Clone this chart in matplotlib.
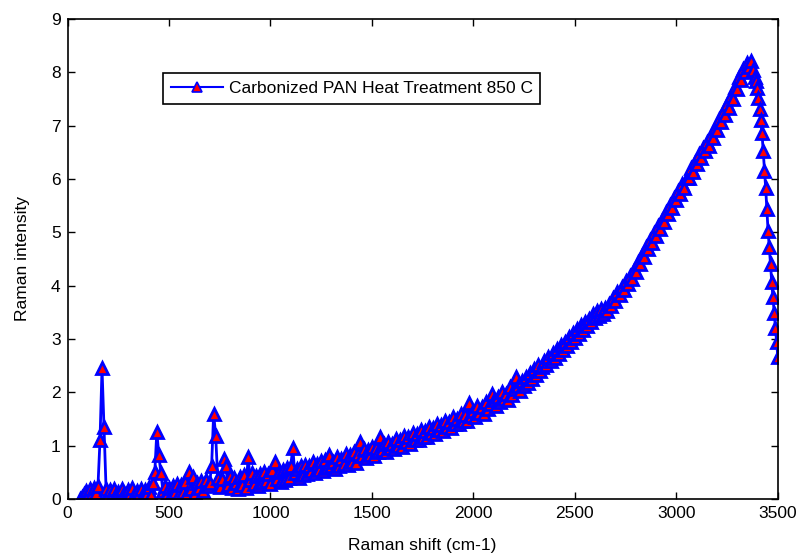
import numpy as np
import matplotlib
matplotlib.use("Agg")
import matplotlib.pyplot as plt

plt.rcParams['font.family'] = ['Liberation Sans', 'DejaVu Sans']

# Raman shift grid: 10 cm-1 steps up to the peak, finer steps on the falling edge
shift_main = np.arange(60, 3371, 10)
shift_tail = np.arange(3380, 3501, 6)

# intensity, one row per 100 cm-1 (60..3370)
intensity_main = [
    0.00, 0.04, 0.09, 0.15, 0.07, 0.18, 0.10, 0.21, 0.12, 0.24,
    1.10, 2.45, 1.35, 0.19, 0.08, 0.16, 0.05, 0.19, 0.10, 0.14,
    0.06, 0.18, 0.11, 0.04, 0.17, 0.09, 0.20, 0.07, 0.15, 0.10,
    0.19, 0.06, 0.16, 0.12, 0.22, 0.08, 0.30, 0.50, 1.26, 0.82,
    0.48, 0.15, 0.24, 0.10, 0.21, 0.07, 0.25, 0.13, 0.28, 0.09,
    0.26, 0.14, 0.31, 0.11, 0.50, 0.18, 0.42, 0.12, 0.30, 0.20,
    0.33, 0.15, 0.36, 0.24, 0.30, 0.62, 1.60, 1.19, 0.40, 0.22,
    0.38, 0.75, 0.61, 0.27, 0.44, 0.21, 0.40, 0.30, 0.18, 0.42,
    0.26, 0.45, 0.20, 0.79, 0.36, 0.48, 0.28, 0.43, 0.25, 0.46,
    0.30, 0.50, 0.33, 0.47, 0.29, 0.55, 0.70, 0.38, 0.50, 0.31,
    0.54, 0.36, 0.58, 0.40, 0.62, 0.96, 0.48, 0.57, 0.39, 0.61,
    0.45, 0.64, 0.47, 0.62, 0.52, 0.70, 0.48, 0.66, 0.55, 0.72,
    0.53, 0.74, 0.58, 0.83, 0.62, 0.70, 0.57, 0.79, 0.62, 0.75,
    0.66, 0.84, 0.64, 0.82, 0.70, 0.89, 0.68, 0.84, 1.07, 0.80,
    0.93, 0.76, 0.92, 0.82, 0.98, 0.80, 0.96, 0.88, 1.16, 0.92,
    1.03, 0.88, 1.07, 0.95, 1.04, 0.94, 1.13, 1.00, 1.10, 0.98,
    1.18, 1.06, 1.16, 1.04, 1.24, 1.11, 1.21, 1.10, 1.29, 1.17,
    1.27, 1.16, 1.35, 1.23, 1.33, 1.21, 1.41, 1.29, 1.38, 1.27,
    1.46, 1.35, 1.44, 1.33, 1.54, 1.41, 1.50, 1.40, 1.60, 1.47,
    1.57, 1.46, 1.80, 1.55, 1.65, 1.53, 1.74, 1.62, 1.72, 1.60,
    1.82, 1.68, 1.79, 1.96, 1.86, 1.74, 1.92, 1.81, 2.00, 1.88,
    1.97, 1.86, 2.10, 1.95, 2.06, 2.28, 2.12, 2.02, 2.22, 2.11,
    2.28, 2.17, 2.36, 2.25, 2.44, 2.32, 2.52, 2.40, 2.48, 2.58,
    2.51, 2.66, 2.58, 2.74, 2.64, 2.82, 2.72, 2.88, 2.80, 2.95,
    2.86, 3.03, 2.94, 3.12, 3.02, 3.18, 3.09, 3.26, 3.16, 3.32,
    3.24, 3.38, 3.31, 3.46, 3.40, 3.52, 3.44, 3.56, 3.47, 3.58,
    3.52, 3.66, 3.61, 3.76, 3.72, 3.88, 3.82, 3.98, 3.92, 4.08,
    4.03, 4.18, 4.12, 4.30, 4.26, 4.44, 4.40, 4.58, 4.54, 4.72,
    4.68, 4.85, 4.80, 4.98, 4.94, 5.12, 5.06, 5.24, 5.20, 5.38,
    5.34, 5.52, 5.46, 5.64, 5.60, 5.78, 5.72, 5.90, 5.84, 6.02,
    6.02, 6.20, 6.14, 6.32, 6.28, 6.46, 6.40, 6.58, 6.52, 6.70,
    6.62, 6.82, 6.76, 6.96, 6.92, 7.12, 7.06, 7.26, 7.20, 7.40,
    7.34, 7.56, 7.50, 7.72, 7.68, 7.92, 7.86, 8.06, 8.00, 8.18,
    8.10, 8.22,
]

# falling edge after the peak (3380..3500)
intensity_tail = [
    8.05, 7.92, 7.84, 7.70, 7.52, 7.32, 7.10, 6.86, 6.52, 6.15,
    5.84, 5.44, 5.02, 4.72, 4.40, 4.06, 3.78, 3.48, 3.20, 2.94,
    2.66,
]

shift = np.concatenate([shift_main, shift_tail])
intensity = np.array(intensity_main + intensity_tail)

fig = plt.figure(figsize=(7.99, 5.54), dpi=100)
ax = fig.add_axes([0.0845, 0.0993, 0.889, 0.8664])

ax.plot(shift, intensity, '-^', color='blue', linewidth=2,
        markerfacecolor='red', markeredgecolor='blue',
        markersize=8, markeredgewidth=2,
        label='Carbonized PAN Heat Treatment 850 C')

ax.set_xlim(0, 3500)
ax.set_ylim(0, 9)
ax.set_xticks(np.arange(0, 3501, 500))
ax.set_yticks(np.arange(0, 10, 1))
ax.tick_params(direction='in', top=True, right=True, length=5, width=1,
               labelsize=12.5, pad=5)
for s in ax.spines.values():
    s.set_linewidth(1.2)

ax.set_xlabel('Raman shift (cm-1)', fontsize=12.5, labelpad=12)
ax.set_ylabel('Raman intensity', fontsize=12.5, labelpad=15)

leg = ax.legend(loc='upper left', bbox_to_anchor=(0.134, 0.8875),
                borderaxespad=0, fancybox=False, framealpha=1,
                edgecolor='black', fontsize=12.5, handlelength=3,
                handletextpad=0.35, borderpad=0.45)
leg.get_frame().set_linewidth(1.2)
for h in leg.legend_handles:
    h.set_markersize(7)
    h.set_markeredgewidth(1.2)
    h.set_linewidth(1.5)

fig.savefig('out.png', dpi=100)
